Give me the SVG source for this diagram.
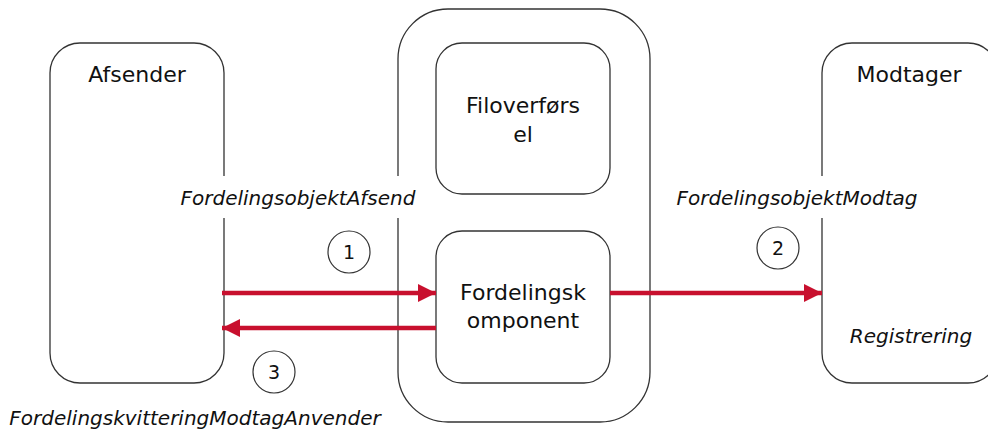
<svg xmlns="http://www.w3.org/2000/svg" width="988" height="429" viewBox="0 0 988 429">
<style>
.box{fill:#fff;stroke:#333;stroke-width:1.3}
.t{font-family:"DejaVu Sans","Liberation Sans",sans-serif;font-size:22px;fill:#111;text-anchor:middle}
.it{font-family:"DejaVu Sans","Liberation Sans",sans-serif;font-size:20px;font-style:italic;fill:#111;text-anchor:middle}
.num{font-family:"DejaVu Sans","Liberation Sans",sans-serif;font-size:19px;fill:#111;text-anchor:middle}
.circ{fill:#fff;stroke:#333;stroke-width:1.2}
.con{stroke:#C8102E;stroke-width:4.5;fill:none}
.lblbg{fill:#fff}
</style>
<defs>
<marker id="ah" markerWidth="4" markerHeight="4" refX="4" refY="2" orient="auto" markerUnits="strokeWidth" viewBox="0 0 4 4">
<path d="M0,0 L4,2 L0,4 Z" fill="#C8102E"/>
</marker>
</defs>
<g id="afsender">
<rect class="box" x="50" y="43" width="174" height="340" rx="30" ry="30"/>
<text class="t" x="137" y="82">Afsender</text>
</g>
<g id="container">
<rect class="box" x="398" y="9" width="252" height="413" rx="50" ry="50"/>
</g>
<g id="filoverforsel">
<rect class="box" x="436" y="43" width="174" height="151" rx="26" ry="26"/>
<text class="t" x="523" y="113">Filoverførs</text>
<text class="t" x="523" y="142">el</text>
</g>
<g id="fordelingskomponent">
<rect class="box" x="436" y="231" width="174" height="152" rx="26" ry="26"/>
<text class="t" x="523" y="300">Fordelingsk</text>
<text class="t" x="523" y="328">omponent</text>
</g>
<g id="modtager">
<rect class="box" x="822" y="43" width="176" height="340" rx="30" ry="30"/>
<text class="t" x="909" y="82">Modtager</text>
<text class="it" x="911" y="343">Registrering</text>
</g>
<g id="connectors">
<line class="con" x1="222" y1="293" x2="436" y2="293" marker-end="url(#ah)"/>
<line class="con" x1="610" y1="293" x2="822" y2="293" marker-end="url(#ah)"/>
<line class="con" x1="436" y1="328" x2="222" y2="328" marker-end="url(#ah)"/>
</g>
<g id="labels">
<rect class="lblbg" x="180" y="176" width="238" height="42"/>
<text class="it" x="298" y="205">FordelingsobjektAfsend</text>
<rect class="lblbg" x="674" y="176" width="246" height="42"/>
<text class="it" x="797" y="205">FordelingsobjektModtag</text>
<text class="it" x="195" y="425">FordelingskvitteringModtagAnvender</text>
</g>
<g id="step1">
<circle class="circ" cx="349" cy="252" r="21"/>
<text class="num" x="349" y="259">1</text>
</g>
<g id="step2">
<circle class="circ" cx="778" cy="248" r="21"/>
<text class="num" x="778" y="255">2</text>
</g>
<g id="step3">
<circle class="circ" cx="274" cy="372" r="21"/>
<text class="num" x="274" y="379">3</text>
</g>
</svg>
